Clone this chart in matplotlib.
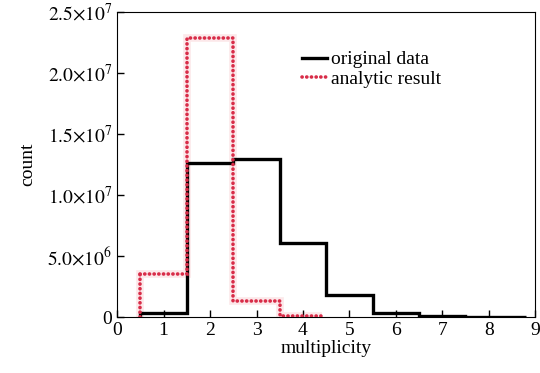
import matplotlib.pyplot as plt
from matplotlib.lines import Line2D
import numpy as np

plt.rcParams['font.family'] = ['Liberation Serif', 'DejaVu Serif']
plt.rcParams['mathtext.fontset'] = 'stix'

# bin centres (multiplicity) and counts
mult = [1, 2, 3, 4, 5, 6, 7, 8]
original = [0.3e6, 12.6e6, 12.95e6, 6.05e6, 1.8e6, 0.3e6, 0.08e6, 0.02e6]
analytic_mult = [1, 2, 3, 4]
analytic = [3.5e6, 22.9e6, 1.3e6, 0.05e6]

yticks = [0, 5e6, 1e7, 1.5e7, 2e7, 2.5e7]
ytick_labels = ['0', r'$5.0{\times}10^{6}$', r'$1.0{\times}10^{7}$',
                r'$1.5{\times}10^{7}$', r'$2.0{\times}10^{7}$', r'$2.5{\times}10^{7}$']

red = '#d82c48'
pink = '#fce8ea'
dots = (0, (0.05, 1.25))

fig = plt.figure(figsize=(5.4, 3.73), dpi=100)
ax = fig.add_axes([0.217, 0.150, 0.774, 0.818])

a_edges = np.append(np.array(analytic_mult) - 0.5, analytic_mult[-1] + 0.4)

# faint halo under everything
ax.stairs(analytic, a_edges, color=pink, linewidth=5.5, baseline=None, zorder=1)
ax.plot([0.5, 0.5], [0, analytic[0]], color=pink, linewidth=5.5, zorder=1)

edges = np.append(np.array(mult) - 0.5, mult[-1] + 0.8)
ax.stairs(original, edges, color='black', linewidth=2.4, baseline=None, zorder=2)
ax.plot([0.5, 0.5], [0, original[0]], color='black', linewidth=2.4, zorder=2)

st = ax.stairs(analytic, a_edges, color=red, linewidth=2.6, linestyle=dots,
               baseline=None, zorder=3)
st.set_capstyle('round')
ax.plot([0.5, 0.5], [0, analytic[0]], color=red, linewidth=2.6, linestyle=dots,
        dash_capstyle='round', zorder=3)

ax.set_xlim(0, 9)
ax.set_ylim(0, 2.5e7)
ax.set_xticks(range(10))
ax.set_yticks(yticks)
ax.set_yticklabels(ytick_labels)
ax.tick_params(direction='in', labelsize=14, length=5, width=1)
ax.set_xlabel('multiplicity', fontsize=14, labelpad=1)
ax.set_ylabel('count', fontsize=14, labelpad=8)

handles = [
    Line2D([], [], color='black', linewidth=2.4),
    Line2D([], [], color=red, linewidth=2.6, linestyle=dots, dash_capstyle='round'),
]
ax.legend(handles, ['original data', 'analytic result'], loc='upper left',
          bbox_to_anchor=(0.4, 0.93), frameon=False, fontsize=14,
          handlelength=1.3, handletextpad=0.2, labelspacing=0.1)

fig.savefig('out.png', dpi=100)
